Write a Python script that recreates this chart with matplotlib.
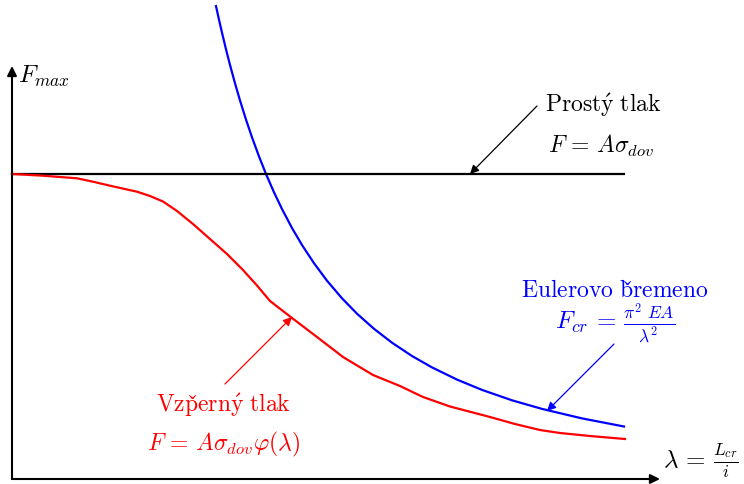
import matplotlib.pyplot as plt

plt.rcParams['mathtext.fontset'] = 'cm'

# slenderness (lambda) and force, arbitrary units
F_simple = 305
lam_simple = [0, 612]

lam_euler = [204, 207, 210, 214, 218, 223, 228, 234, 240, 247, 254, 262, 270, 280,
             290, 302, 315, 330, 345, 362, 380, 400, 420, 445, 470, 500, 530, 570, 612]
F_euler = [472.9, 459.3, 446.3, 429.7, 414.1, 395.7, 378.6, 359.4, 341.7, 322.6,
           305.0, 286.7, 270.0, 251.0, 234.0, 215.8, 198.3, 180.7, 165.3, 150.2,
           136.3, 123.0, 111.6, 99.4, 89.1, 78.7, 70.1, 60.6, 52.5]

lam_buck = [0, 31, 65, 81, 98, 125, 138, 151, 165, 181, 198, 215, 231, 245, 258,
            280, 305, 331, 361, 388, 411, 438, 478, 503, 528, 548, 578, 613]
F_buck = [305, 303.3, 300.7, 297.3, 293.3, 287.3, 283, 277.5, 268, 255, 240, 225,
          209, 193.5, 178, 161, 142, 122, 104, 93, 82, 72.5, 62, 55, 49, 46, 43, 40]

fig = plt.figure(figsize=(7.44, 4.85), dpi=100)
ax = fig.add_axes([0, 0, 1, 1])
ax.set_xlim(-12, 732)
ax.set_ylim(-5, 480)
ax.axis('off')

# axes with arrow heads
axis_arrow = dict(arrowstyle='-|>', lw=1.5, color='black', mutation_scale=14,
                  shrinkA=0, shrinkB=0)
ax.annotate('', xy=(648, 0), xytext=(0, 0), arrowprops=axis_arrow)
ax.annotate('', xy=(0, 413), xytext=(0, 0), arrowprops=axis_arrow)

ax.plot(lam_euler, F_euler, color='blue', lw=1.6, solid_joinstyle='round')
ax.plot(lam_simple, [F_simple, F_simple], color='black', lw=1.6)
ax.plot(lam_buck, F_buck, color='red', lw=1.6, solid_joinstyle='round')

ax.text(6, 404, r'$F_{max}$', fontsize=18, va='center', ha='left')
ax.text(651, 19, r'$\lambda\, =\, \frac{L_{cr}}{i}$', fontsize=18, va='center', ha='left')

# labels with pointers
def label(x, y, s, color, size=17):
    ax.text(x, y, s, fontsize=size, color=color, ha='center', va='center')

def pointer(tip, tail, color):
    ax.annotate('', xy=tip, xytext=tail,
                arrowprops=dict(arrowstyle='-|>', lw=0.9, color=color,
                                mutation_scale=13, shrinkA=0, shrinkB=0))

label(591, 375, r'$\mathrm{Prost\acute{y}\ tlak}$', 'black')
label(589, 334, r'$F\, =\, A\sigma_{dov}$', 'black')
pointer((458, F_simple), (525, 373), 'black')

label(603, 190, r'$\mathrm{Eulerovo\ b\check{r}emeno}$', 'blue')
label(603, 157, r'$F_{cr}\, =\, \frac{\pi^2\ EA}{\lambda^2}$', 'blue', size=18)
pointer((535, 68), (602, 135), 'blue')

label(212, 75, r'$\mathrm{Vzp\check{e}rn\acute{y}\ tlak}$', 'red')
label(212, 36, r'$F\, =\, A\sigma_{dov}\varphi(\lambda)$', 'red')
pointer((280, 162), (213, 95), 'red')

fig.savefig('out.png', dpi=100)
